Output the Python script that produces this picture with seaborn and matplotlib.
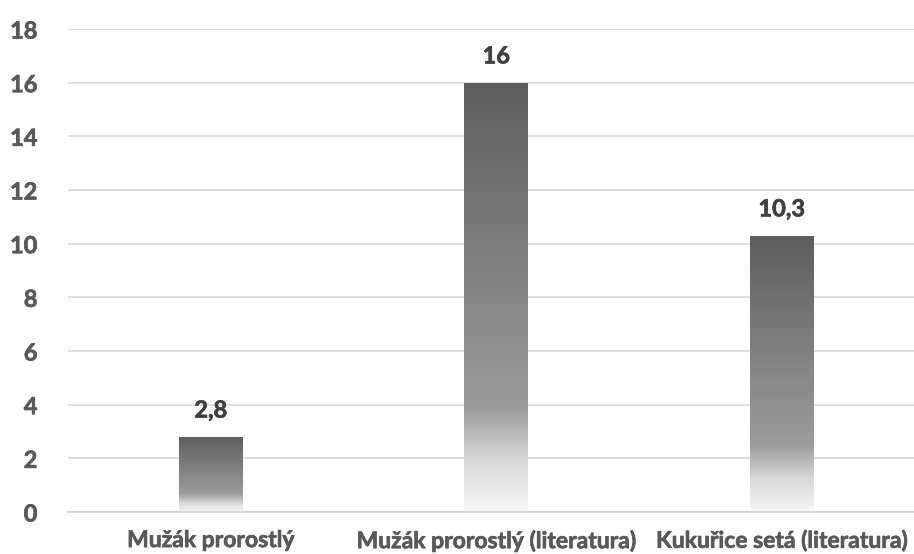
import matplotlib
matplotlib.use("Agg")
import matplotlib.pyplot as plt
import matplotlib.patheffects as pe
import seaborn as sns
import numpy as np
import pandas as pd
from matplotlib.colors import LinearSegmentedColormap

categories = ["Mužák prorostlý", "Mužák prorostlý (literatura)", "Kukuřice setá (literatura)"]
values = [2.8, 16, 10.3]
value_labels = ["2,8", "16", "10,3"]
y_ticks = [0, 2, 4, 6, 8, 10, 12, 14, 16, 18]

df = pd.DataFrame({"kategorie": categories, "hodnota": values})

sns.set_theme(style="white")
plt.rcParams["font.family"] = ["Lato", "DejaVu Sans"]
plt.rcParams["font.weight"] = "bold"

W, H = 914, 554
fig = plt.figure(figsize=(W / 100, H / 100), dpi=100)
left, right, bottom, top = 68, 914, 512, 29
ax = fig.add_axes([left / W, (H - bottom) / H, (right - left) / W, (bottom - top) / H])

sns.barplot(data=df, x="kategorie", y="hodnota", ax=ax, width=0.224,
            color="#5f5f5f", saturation=1, zorder=2)

# light outline stroke to give the labels a heavier look
thick = [pe.withStroke(linewidth=0.5, foreground="#595959")]
thick_dark = [pe.withStroke(linewidth=0.5, foreground="#404040")]

ax.set_ylim(0, 18)
ax.set_yticks(y_ticks)
ax.set_yticklabels([str(t) for t in y_ticks], fontweight="bold")
ax.set_xticks(range(len(categories)))
ax.set_xticklabels(categories, fontweight="bold")
for lbl in ax.get_yticklabels() + ax.get_xticklabels():
    lbl.set_path_effects(thick)
ax.yaxis.grid(True, color="#d9d9d9", linewidth=1.2, zorder=0)
ax.set_axisbelow(True)
for s in ["top", "right", "left"]:
    ax.spines[s].set_visible(False)
ax.spines["bottom"].set_color("#d0d0d0")
ax.spines["bottom"].set_linewidth(1.2)
ax.set_xlabel("")
ax.set_ylabel("")
ax.tick_params(axis="y", length=0, pad=22, labelsize=17, labelcolor="#595959")
ax.tick_params(axis="x", length=0, pad=13, labelsize=16.5, labelcolor="#595959")

# vertical gradient fill: light at the base, dark at the top of every bar
cmap = LinearSegmentedColormap.from_list(
    "bar_grad",
    [(0.0, "#f6f6f6"), (0.12, "#d8d8d8"), (0.20, "#b0b0b0"),
     (0.24, "#9c9c9c"), (1.0, "#5e5e5e")])
grad = np.linspace(0, 1, 256).reshape(-1, 1)
for patch in list(ax.patches):
    x0, y0 = patch.get_x(), patch.get_y()
    w, h = patch.get_width(), patch.get_height()
    patch.set_facecolor("none")
    patch.set_edgecolor("none")
    im = ax.imshow(grad, cmap=cmap, origin="lower", aspect="auto",
                   extent=[x0, x0 + w, y0, y0 + h], zorder=2, interpolation="bilinear")
    im.set_clip_path(patch)

ax.set_xlim(-0.5, -0.5 + (right - left) / 285.5)
ax.set_ylim(0, 18)

for i, (v, lab) in enumerate(zip(values, value_labels)):
    ax.annotate(lab, (i, v), xytext=(0, 11), textcoords="offset points",
                ha="center", va="bottom", fontsize=17, fontweight="bold",
                color="#404040", path_effects=thick_dark)

fig.savefig("out.png", dpi=100, facecolor="white")
